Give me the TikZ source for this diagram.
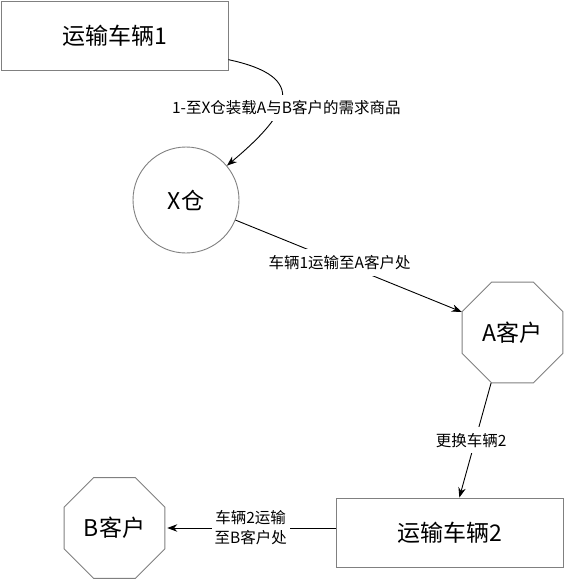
\documentclass[tikz,border=0pt]{standalone}
\usepackage{fontspec}
\setmainfont{Noto Sans CJK SC}
\usepackage{tikz}
\usetikzlibrary{arrows.meta,shapes.geometric}

\begin{document}
\begin{tikzpicture}[
  x=1pt,y=-1pt,
  >={Stealth[length=10pt,width=7.5pt]},
  every node/.style={font=\fontsize{23}{27}\selectfont},
  vehicle/.style={rectangle,draw=black!50,line width=0.9pt,minimum width=227pt,minimum height=69pt,inner sep=0pt},
  depot/.style={circle,draw=black!50,line width=0.9pt,minimum size=106pt,inner sep=0pt},
  client/.style={regular polygon,regular polygon sides=8,draw=black!50,line width=0.9pt,minimum size=109pt,inner sep=0pt},
  route/.style={->,line width=0.9pt},
  lbl/.style={fill=white,inner xsep=3pt,inner ysep=6pt,align=center,font=\fontsize{15.5}{20}\selectfont}
]
  \useasboundingbox (0,0) rectangle (564,579);

  \node[vehicle] (car1) at (114.5,35.5) {运输车辆1};
  \node[depot]   (xc)   at (186,200) {X仓};
  \node[client]  (ka)   at (512.5,332.5) {A客户};
  \node[vehicle] (car2) at (450,532.5) {运输车辆2};
  \node[client]  (kb)   at (114.5,528) {B客户};

  % loading run, then the two deliveries
  \draw[route] (car1) to[out=-12,in=40,looseness=2]
    node[lbl,pos=0.58,xshift=7pt] {1-至X仓装载A与B客户的需求商品} (xc);
  \draw[route] (xc) -- node[lbl,pos=0.46] {车辆1运输至A客户处} (ka);
  \draw[route] (ka.-113) -- node[lbl,xshift=-4pt] {更换车辆2} (car2.75);
  \draw[route,shorten >=2pt] (car2.west |- kb.east) --
    node[lbl] {车辆2运输\\至B客户处} (kb.east);
\end{tikzpicture}
\end{document}
